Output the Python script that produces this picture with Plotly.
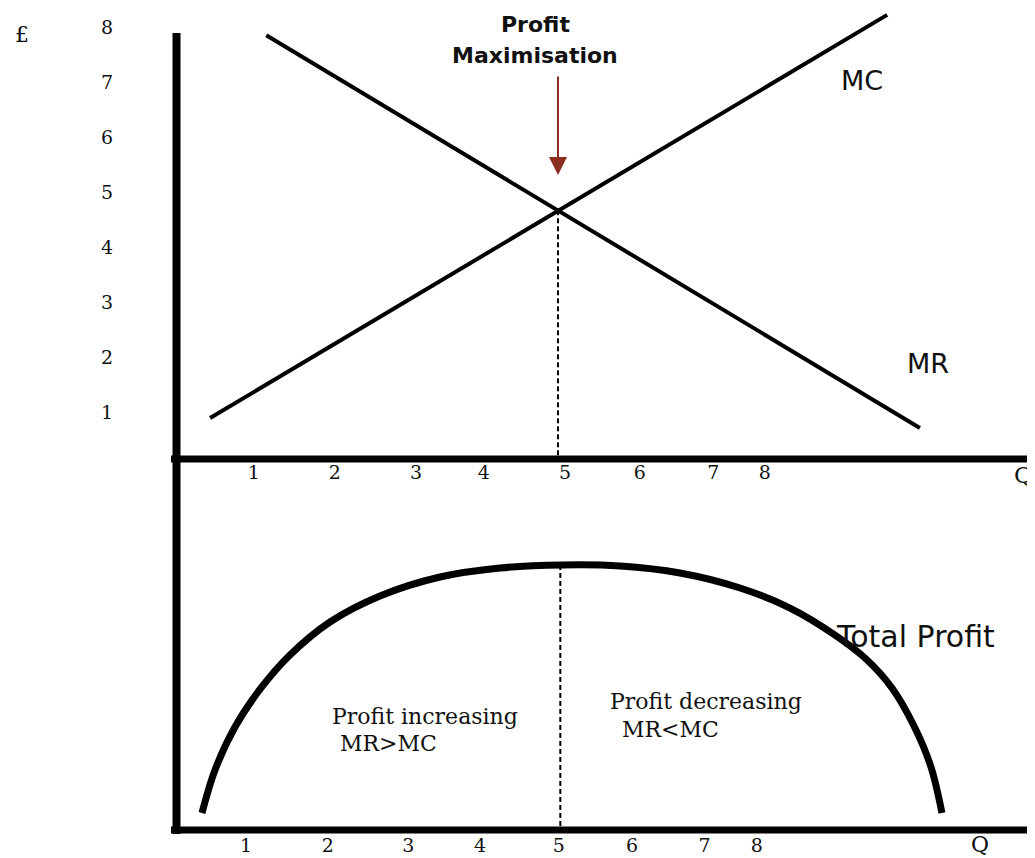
import plotly.graph_objects as go

# ---------------- data ----------------
mc_q = [0.45, 9.13]
mc_price = [0.89, 8.22]
mr_q = [1.17, 9.55]
mr_price = [7.85, 0.71]

profit_q = [0.346, 0.513, 0.769, 1.103, 1.474, 1.987, 2.628, 3.397, 4.167, 4.962,
            5.705, 6.474, 7.244, 7.885, 8.462, 8.846, 9.192, 9.487, 9.692, 9.833]
profit_val = [0.309, 1.091, 1.873, 2.582, 3.182, 3.782, 4.255, 4.600, 4.764, 4.818,
              4.800, 4.673, 4.400, 4.036, 3.545, 3.127, 2.582, 1.855, 1.145, 0.309]

opt_q_top = 4.91
opt_price = 4.67
opt_q_bottom = 4.94
opt_profit = 4.82

price_ticks = [1, 2, 3, 4, 5, 6, 7, 8]
price_tick_text = ["1", "2", "3", "4", "5", "6", "7", "8"]
q_tick_text = ["1", "2", "3", "4", "5", "6", "7", "8"]
q_tick_pos_top = [1.01, 2.05, 3.09, 3.96, 5.0, 5.96, 6.90, 7.56]
q_tick_pos_bottom = [0.91, 1.96, 2.99, 3.91, 4.92, 5.86, 6.79, 7.46]

# ---------------- figure ----------------
W, H = 1027, 850          # page body margin of 8px brings it to the 1035x858 window
SERIF = "DejaVu Serif"
SANS = "DejaVu Sans"

fig = go.Figure()

fig.add_trace(go.Scatter(x=mc_q, y=mc_price, mode="lines",
                         line=dict(color="black", width=4),
                         xaxis="x", yaxis="y", hoverinfo="skip", showlegend=False))
fig.add_trace(go.Scatter(x=mr_q, y=mr_price, mode="lines",
                         line=dict(color="black", width=4),
                         xaxis="x", yaxis="y", hoverinfo="skip", showlegend=False))
fig.add_trace(go.Scatter(x=[opt_q_top, opt_q_top], y=[opt_price, 0.15], mode="lines",
                         line=dict(color="black", width=2, dash="5px,3px"),
                         xaxis="x", yaxis="y", hoverinfo="skip", showlegend=False))

fig.add_trace(go.Scatter(x=profit_q, y=profit_val, mode="lines",
                         line=dict(color="black", width=7, shape="spline", smoothing=1.0),
                         xaxis="x2", yaxis="y2", hoverinfo="skip", showlegend=False))
fig.add_trace(go.Scatter(x=[opt_q_bottom, opt_q_bottom], y=[opt_profit, 0], mode="lines",
                         line=dict(color="black", width=2, dash="5px,3px"),
                         xaxis="x2", yaxis="y2", hoverinfo="skip", showlegend=False))

xr = [0, 860 / 78]
tick_font = dict(family=SERIF, size=19, color="#111")

fig.update_layout(
    width=W, height=H,
    margin=dict(l=167, r=0, t=0, b=0),
    paper_bgcolor="white", plot_bgcolor="rgba(0,0,0,0)",
    template=None,
    xaxis=dict(domain=[0, 1], range=xr, anchor="y",
               showgrid=False, zeroline=False, showline=False,
               tickmode="array", tickvals=q_tick_pos_top, ticktext=q_tick_text,
               ticks="", tickfont=tick_font, ticklabelstandoff=0, automargin=False),
    yaxis=dict(domain=[(858 - 459) / H, 1], range=[(467 - 459) / 55, 459 / 55], anchor="x",
               showgrid=False, zeroline=False, showline=False,
               tickmode="array", tickvals=price_ticks, ticktext=price_tick_text,
               ticks="", tickfont=tick_font, ticklabelstandoff=61, automargin=False),
    xaxis2=dict(domain=[0, 1], range=xr, anchor="y2",
                showgrid=False, zeroline=False, showline=False,
                tickmode="array", tickvals=q_tick_pos_bottom, ticktext=q_tick_text,
                ticks="", tickfont=tick_font, ticklabelstandoff=2, automargin=False),
    yaxis2=dict(domain=[(858 - 830) / H, (858 - 459) / H], range=[0, 371 / 55], anchor="x2",
                showgrid=False, zeroline=False, showline=False, showticklabels=False,
                automargin=False),
)

# axis lines
fig.add_shape(type="line", xref="paper", yref="paper",
              x0=1.5 / 860, x1=1.5 / 860, y0=(858 - 33) / H, y1=(858 - 834) / H,
              line=dict(color="black", width=8))
fig.add_shape(type="line", xref="paper", yref="paper",
              x0=-4 / 860, x1=1.02, y0=(858 - 459) / H, y1=(858 - 459) / H,
              line=dict(color="black", width=7))
fig.add_shape(type="line", xref="paper", yref="paper",
              x0=-4 / 860, x1=1.02, y0=(858 - 830) / H, y1=(858 - 830) / H,
              line=dict(color="black", width=7))

# arrow
fig.add_annotation(x=opt_q_top, y=(467 - 175) / 55, xref="x", yref="y",
                   ax=0, ay=-100, axref="pixel", ayref="pixel",
                   text="", showarrow=True, arrowhead=2, arrowsize=1.8,
                   arrowwidth=2, arrowcolor="#8B2E1F")

def txt(text, x, y, size, family, xref="x", yref="y", xanchor="center", bold=False):
    fig.add_annotation(x=x, y=y, xref=xref, yref=yref, text=f"<b>{text}</b>" if bold else text,
                       showarrow=False, xanchor=xanchor, yanchor="middle",
                       font=dict(family=family, size=size, color="#111"))

txt("Profit", (535 - 175) / 78, (467 - 24) / 55, 22, SANS, bold=True)
txt("Maximisation", (535 - 175) / 78, (467 - 55) / 55, 22, SANS, bold=True)
txt("MC", (862 - 175) / 78, (467 - 80) / 55, 27, SANS)
txt("MR", (928 - 175) / 78, (467 - 363) / 55, 27, SANS)
txt("Total Profit", (915 - 175) / 78, (830 - 636) / 55, 30, SANS, xref="x2", yref="y2")
txt("Profit increasing", (330 - 175) / 78, (830 - 716) / 55, 22, SERIF, xref="x2", yref="y2", xanchor="left")
txt("MR>MC", (338 - 175) / 78, (830 - 743) / 55, 22, SERIF, xref="x2", yref="y2", xanchor="left")
txt("Profit decreasing", (608 - 175) / 78, (830 - 701) / 55, 22, SERIF, xref="x2", yref="y2", xanchor="left")
txt("MR<MC", (620 - 175) / 78, (830 - 729) / 55, 22, SERIF, xref="x2", yref="y2", xanchor="left")
txt("£", (22 - 175) / 860, (858 - 35) / H, 22, SERIF, xref="paper", yref="paper")
txt("Q", (1023 - 175) / 860, (858 - 475) / H, 23, SERIF, xref="paper", yref="paper")
txt("Q", (980 - 175) / 860, (858 - 844) / H, 22, SERIF, xref="paper", yref="paper")

fig.write_html("out.html")
